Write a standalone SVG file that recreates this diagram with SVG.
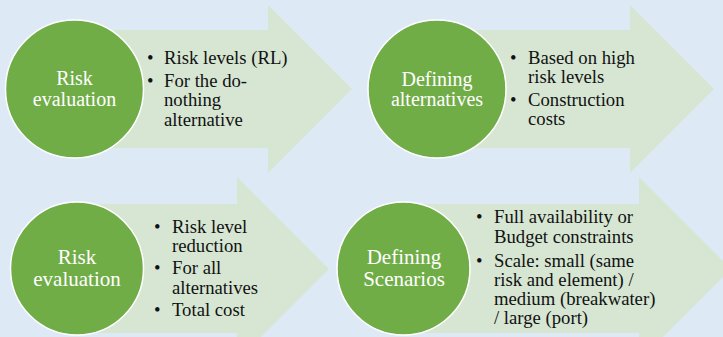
<svg xmlns="http://www.w3.org/2000/svg" width="723" height="337" viewBox="0 0 723 337">
<style>
.arrow{fill:#D6E6D3}
.circ{fill:#70AD47;stroke:#FFFFFF;stroke-width:1.5}
.ct{font-family:"Liberation Serif","Times New Roman",serif;fill:#FFFFFF;text-anchor:middle}
.bt{font-family:"Liberation Serif","Times New Roman",serif;font-size:18.7px;fill:#111111}
</style>
<rect width="723" height="337" fill="#DDEAF6"/>
<g id="step3">
<polygon class="arrow" points="77,204 237,204 237,177 329,269 237,361 237,333 77,333"/>
<circle class="circ" cx="77" cy="268.5" r="66.5"/>
<text class="ct" font-size="21" x="77" y="263.5">Risk</text>
<text class="ct" font-size="21" x="77" y="286">evaluation</text>
<g class="bt">
<text x="154" y="232.7">•</text><text x="172" y="232.7">Risk level</text>
<text x="172" y="251.5">reduction</text>
<text x="154" y="274.3">•</text><text x="172" y="274.3">For all</text>
<text x="172" y="293.7">alternatives</text>
<text x="154" y="316.3">•</text><text x="172" y="316.3">Total cost</text>
</g>
</g>
<g id="step4">
<polygon class="arrow" points="404,204 639,204 639,177 731,269 639,361 639,333 404,333"/>
<circle class="circ" cx="403.5" cy="268.5" r="66.5"/>
<text class="ct" font-size="21" x="404" y="263.5">Defining</text>
<text class="ct" font-size="21" x="404" y="285.5">Scenarios</text>
<g class="bt">
<text x="476" y="223.3">•</text><text x="494" y="223.3">Full availability or</text>
<text x="494" y="243.3">Budget constraints</text>
<text x="476" y="266.7">•</text><text x="494" y="266.7">Scale: small (same</text>
<text x="494" y="285.5">risk and element) /</text>
<text x="494" y="305">medium (breakwater)</text>
<text x="494" y="323.5">/ large (port)</text>
</g>
</g>
<g id="step1">
<polygon class="arrow" points="75,30 268,30 268,5 352,89 268,173 268,148 75,148"/>
<circle class="circ" cx="74.5" cy="89" r="69"/>
<text class="ct" font-size="20" x="74.5" y="85">Risk</text>
<text class="ct" font-size="20" x="74.5" y="105.5">evaluation</text>
<g class="bt">
<text x="147" y="64.3">•</text><text x="164" y="64.3">Risk levels (RL)</text>
<text x="147" y="86.7">•</text><text x="164" y="86.7">For the do-</text>
<text x="164" y="106">nothing</text>
<text x="164" y="125.5">alternative</text>
</g>
</g>
<g id="step2">
<polygon class="arrow" points="437,30 630,30 630,5 714,89 630,173 630,148 437,148"/>
<circle class="circ" cx="437" cy="89" r="69"/>
<text class="ct" font-size="20" x="437" y="86">Defining</text>
<text class="ct" font-size="20" x="437" y="106">alternatives</text>
<g class="bt">
<text x="510" y="63.5">•</text><text x="528" y="63.5">Based on high</text>
<text x="528" y="82.5">risk levels</text>
<text x="510" y="106">•</text><text x="528" y="106">Construction</text>
<text x="528" y="125">costs</text>
</g>
</g>
<g id="connectors"></g>
</svg>
